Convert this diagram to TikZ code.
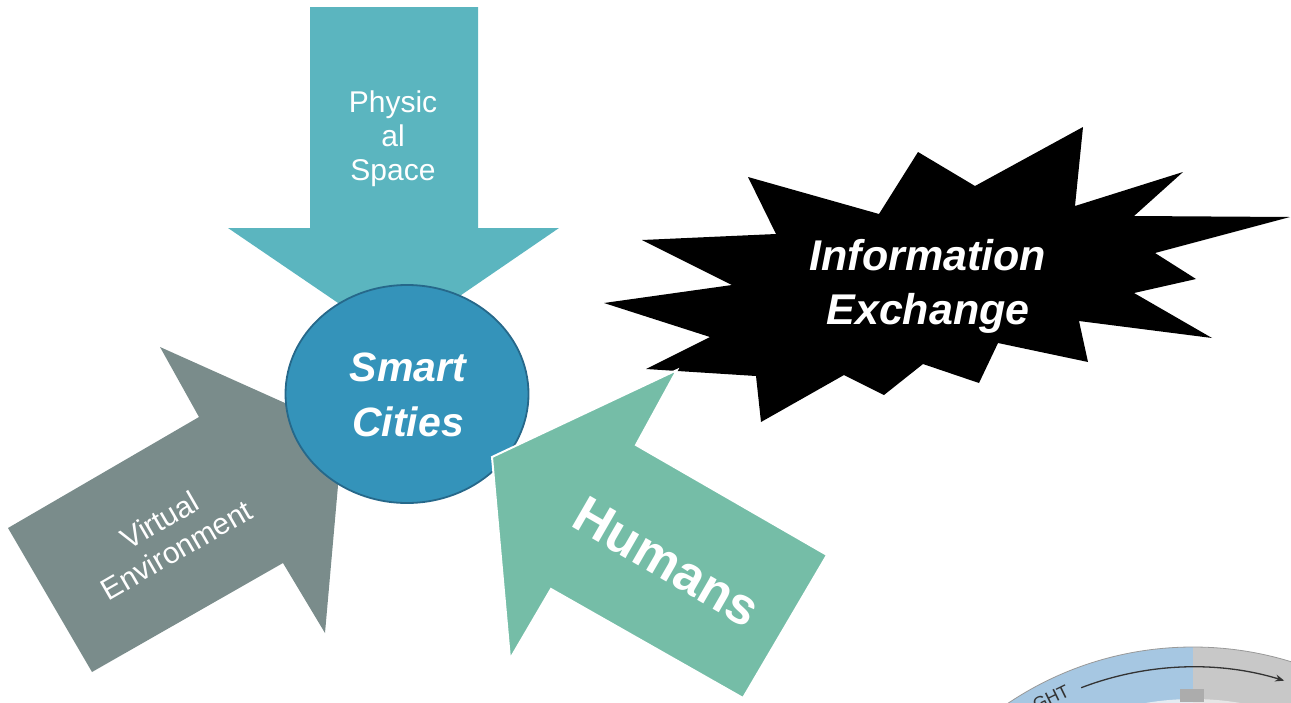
\documentclass[tikz,border=0pt]{standalone}
\usepackage{fontspec}
\setmainfont{Liberation Sans}
\usetikzlibrary{arrows.meta,shapes.geometric}
\definecolor{physc}{RGB}{91,181,191}
\definecolor{circc}{RGB}{52,147,186}
\definecolor{circb}{RGB}{38,104,138}
\definecolor{virtc}{RGB}{122,140,139}
\definecolor{humc}{RGB}{117,189,167}
\definecolor{bandblue}{RGB}{166,199,226}
\definecolor{innerblue}{RGB}{228,236,242}
\definecolor{bandgray}{RGB}{200,200,200}
\definecolor{innergray}{RGB}{230,230,230}
\begin{document}
\begin{tikzpicture}[x=1pt,y=-1pt,
  lighttext/.style={text=white,align=center,inner sep=0pt,font=\fontsize{30}{34}\selectfont},
  boldtext/.style={text=white,align=center,inner sep=0pt,font=\bfseries\itshape\fontsize{41}{55}\selectfont}]
\useasboundingbox (0,0) rectangle (1291,702);

% Physical Space arrow
\fill[physc] (310,7) -- (478,7) -- (478,228) -- (559,228) -- (394,341) -- (228,228) -- (310,228) -- cycle;
% Virtual Environment arrow
\fill[virtc] (8,528) -- (199,417) -- (160,347) -- (343,429) -- (325,633) -- (283,563) -- (92,672) -- cycle;
% Smart Cities circle
\node[ellipse,minimum width=243pt,minimum height=218pt,fill=circc,draw=circb,line width=1.8pt,inner sep=0pt] (circ) at (407,394) {};
% explosion
\fill[black] (604,303) -- (732,285) -- (642,240) -- (776,234) -- (748,177) -- (879,214) -- (918,152) -- (975,186) -- (1083,127) -- (1075,206) -- (1183,172) -- (1134,216) -- (1290,217) -- (1155,253) -- (1196,279) -- (1134,293) -- (1212,338) -- (1079,321) -- (1088,362) -- (998,343) -- (979,383) -- (923,364) -- (884,395) -- (844,375) -- (761,422) -- (756,376) -- (646,369) -- (710,337) -- cycle;
% Humans arrow
\filldraw[fill=humc,draw=white,line width=2pt,line join=miter] (492,457) -- (677,370) -- (636,445) -- (827,555) -- (743,698) -- (551,589) -- (510,659) -- cycle;

% texts
\node[lighttext] (phys) at (393,139) {Physic\\al\\Space};
\node[lighttext,rotate=30] (virt) at (168,535) {Virtual\\Environment};
\node[boldtext] (smart) at (408,395) {Smart\\Cities};
\node[boldtext,font=\bfseries\itshape\fontsize{43}{54}\selectfont] (info) at (928,286) {Information\\Exchange};
\node[text=white,inner sep=0pt,font=\bfseries\fontsize{52}{60}\selectfont,rotate=-30] (hum) at (667,562) {Humans};

% partial wheel at the bottom right
\begin{scope}
\clip (0,0) rectangle (1291,702);
\coordinate (C) at (1193,979);
\begin{scope}
\clip (0,0) rectangle (1193,702);
\fill[bandblue] (C) circle[radius=332];
\fill[innerblue] (C) circle[radius=280];
\end{scope}
\begin{scope}
\clip (1193,0) rectangle (1291,702);
\fill[bandgray] (C) circle[radius=332];
\fill[innergray] (C) circle[radius=280];
\end{scope}
\draw[gray!80,line width=0.8pt] (C) circle[radius=332];
\fill[gray!65] (1180,689) rectangle (1204,702);
\draw[black!80,line width=1.3pt,-{Stealth[length=9pt,width=7pt]}] (C) ++(-111:312) arc[start angle=-111,end angle=-73,radius=312];
\node[text=black!80,inner sep=0pt,font=\fontsize{18}{20}\selectfont,rotate=26] (ght) at (1051,698) {GHT};
\end{scope}
\end{tikzpicture}
\end{document}
